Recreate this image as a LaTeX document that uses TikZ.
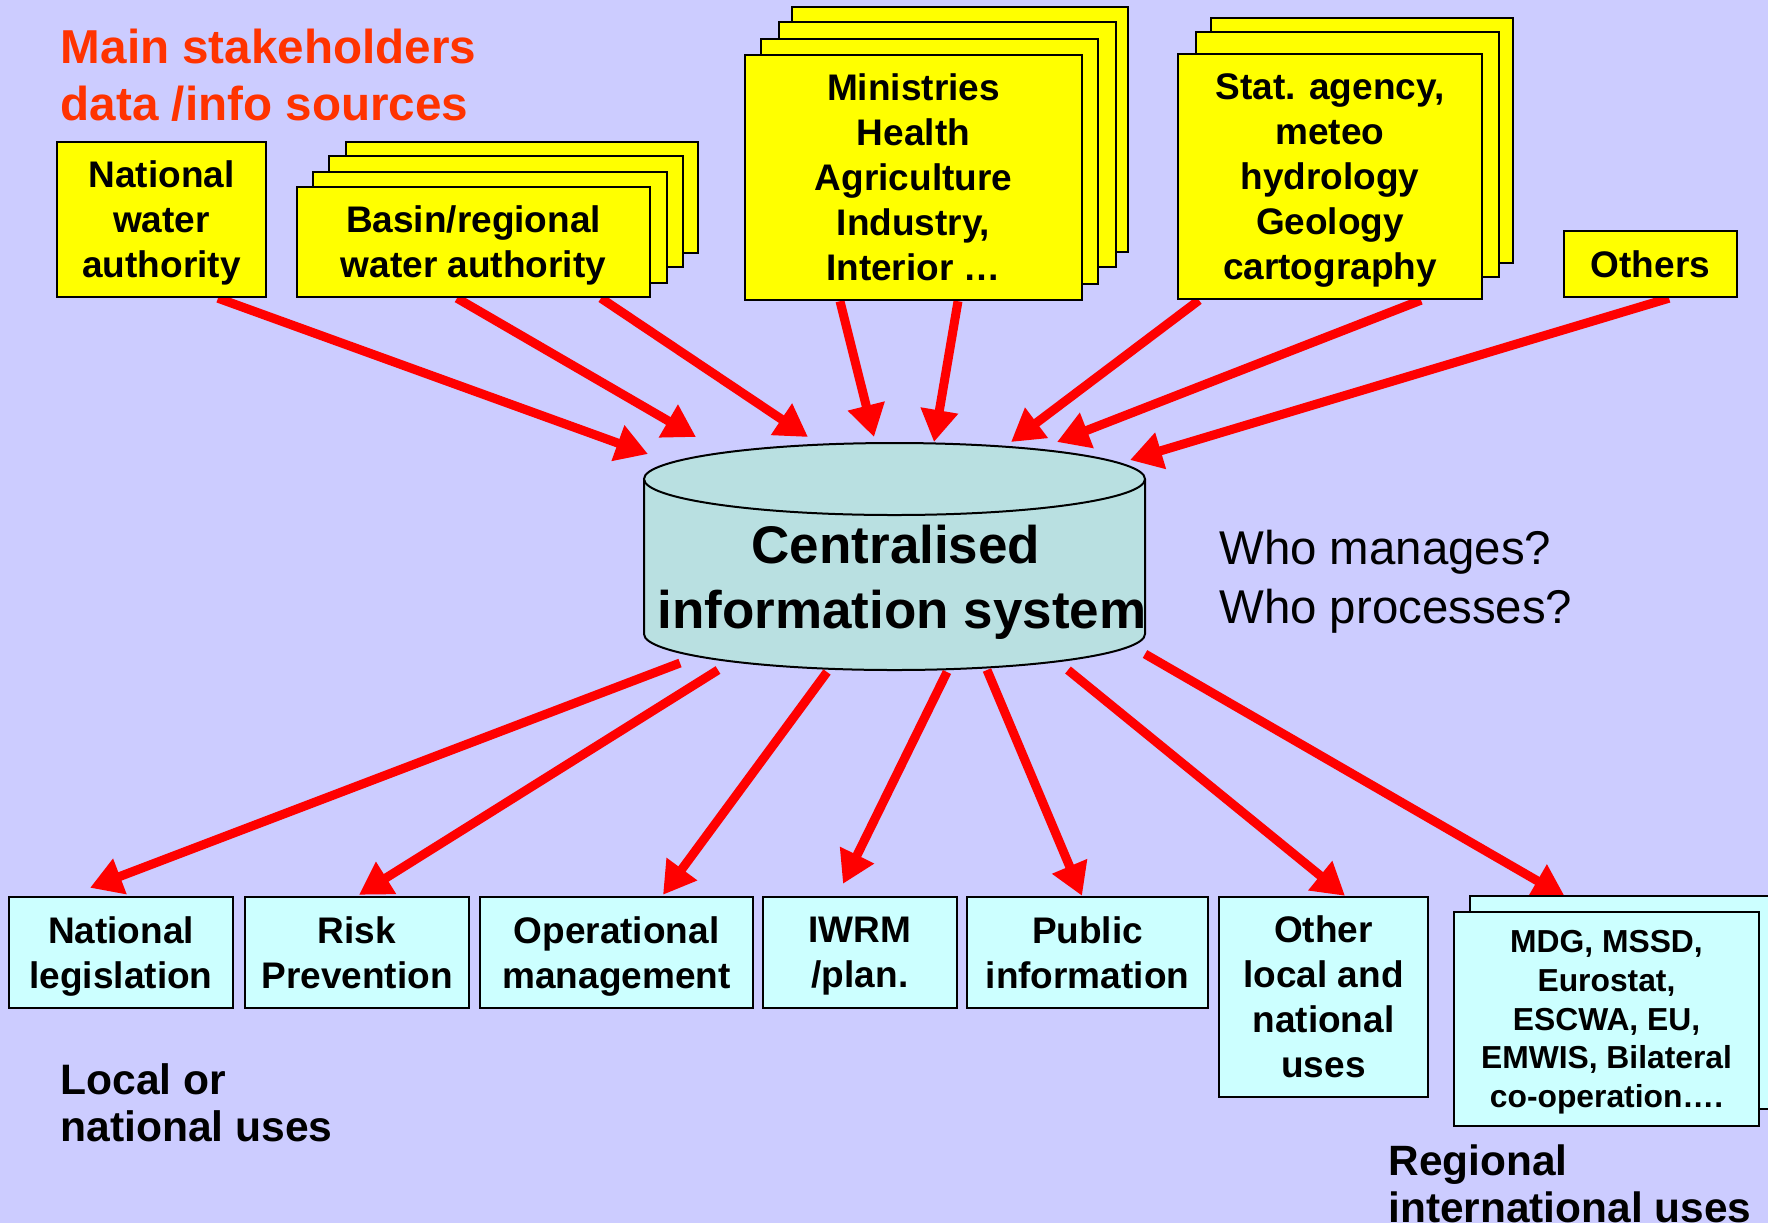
\documentclass[tikz,border=0pt]{standalone}
\usepackage{fontspec}
\setmainfont{Liberation Sans}
\usetikzlibrary{arrows.meta}
\definecolor{bgc}{RGB}{204,204,255}
\definecolor{ylw}{RGB}{255,255,0}
\definecolor{cyn}{RGB}{204,255,255}
\definecolor{cylc}{RGB}{185,224,225}
\definecolor{ttl}{RGB}{255,51,0}
\pgfdeclarelayer{back}
\pgfsetlayers{back,main}
\begin{document}
\begin{tikzpicture}[x=0.5pt,y=-0.5pt,
  boxfont/.style={font=\bfseries\fontsize{18.5}{22.5}\selectfont},
  src/.style={draw=black, line width=1.2pt, fill=ylw, inner sep=0pt, align=center, boxfont},
  usebox/.style={draw=black, line width=1.2pt, fill=cyn, inner sep=0pt, align=center, boxfont},
  sheet/.style={draw=black, line width=1.2pt, fill=ylw},
  csheet/.style={draw=black, line width=1.2pt, fill=cyn},
  flow/.style={draw=red, line width=4.5pt, -{Triangle[length=16pt,width=18pt]}},
  freetext/.style={inner sep=0pt, anchor=north west, align=left},
]
\useasboundingbox (0,0) rectangle (1768,1223);
\clip (0,0) rectangle (1768,1223);

% title
\node[freetext, text=ttl, font=\bfseries\fontsize{23.8}{28.5}\selectfont] (title) at (60.5,29) {Main stakeholders\\data /info sources};

% sources
\node[src, minimum width=104.5pt, minimum height=77.5pt] (nwa) at (161.5,219.5) {National\\water\\\smash{authority}};

\draw[sheet] (346,142) rectangle (698,253);
\draw[sheet] (329,156) rectangle (683,267);
\draw[sheet] (313,172) rectangle (667,283);
\node[src, minimum width=176.5pt, minimum height=55pt] (brwa) at (473.5,242) {Basin/regional\\\smash{water authority}};

\draw[sheet] (792,7) rectangle (1128,252);
\draw[sheet] (779,22) rectangle (1116,267);
\draw[sheet] (761,39) rectangle (1098,284);
\node[src, minimum width=168.5pt, minimum height=122.5pt] (mini) at (913.5,177.5) {Ministries\\Health\\Agriculture\\Industry,\\\smash{Interior …}};

\draw[sheet] (1211,18) rectangle (1513,263);
\draw[sheet] (1196,32) rectangle (1499,277);
\node[src, minimum width=152pt, minimum height=122.5pt] (stat) at (1330,176.5) {Stat. agency,\\meteo\\hydrology\\Geology\\\smash{cartography}};

\node[src, minimum width=86.5pt, minimum height=33pt] (oth) at (1650.5,264) {Others};

% central system label
\node[inner sep=0pt, align=center, font=\bfseries\fontsize{26.5}{32.25}\selectfont] (cis) at (896,577) {Centralised\\\smash{\hspace*{6pt}information system}};

\node[freetext, font=\fontsize{23.7}{29.2}\selectfont] (who) at (1219,530) {Who manages?\\Who processes?};

% uses
\node[usebox, minimum width=112pt, minimum height=55.5pt] (nl) at (121,952.5) {National\\\smash{legislation}};
\node[usebox, minimum width=112pt, minimum height=55.5pt] (rp) at (357,952.5) {Risk\\\smash{Prevention}};
\node[usebox, minimum width=136.5pt, minimum height=55.5pt] (om) at (616.5,952.5) {Operational\\\smash{management}};
\node[usebox, minimum width=97pt, minimum height=55.5pt] (iw) at (860,952.5) {IWRM\\\smash{/plan.}};
\node[usebox, minimum width=120.5pt, minimum height=55.5pt] (pi) at (1087.5,952.5) {Public\\\smash{information}};
\node[usebox, minimum width=104.5pt, minimum height=100pt] (ol) at (1323.5,997) {Other\\local and\\national\\\smash{uses}};
\draw[csheet] (1470,896) rectangle (1800,1109);
\node[usebox, minimum width=152.5pt, minimum height=107pt, font=\bfseries\fontsize{15.9}{19.3}\selectfont] (mdg) at (1606.5,1019) {MDG, MSSD,\\Eurostat,\\ESCWA, EU,\\EMWIS, Bilateral\\\smash{co-operation….}};

\node[freetext, font=\bfseries\fontsize{21.3}{23.5}\selectfont] (loc) at (60,1063) {Local or\\national uses};
\node[freetext, font=\bfseries\fontsize{21.2}{23.5}\selectfont] (reg) at (1388,1144) {Regional\\international uses};

% arrow end points on the cylinder
\coordinate (ct1) at (648,454);
\coordinate (ct2) at (696,437);
\coordinate (ct3) at (808,437);
\coordinate (ct4) at (874,437);
\coordinate (ct5) at (934,442);
\coordinate (ct6) at (1011,442);
\coordinate (ct7) at (1057,442);
\coordinate (ct8) at (1130,460);
\coordinate (cb1) at (680,663);
\coordinate (cb2) at (718,670);
\coordinate (cb3) at (827,672);
\coordinate (cb4) at (947,672);
\coordinate (cb5) at (987,670);
\coordinate (cb6) at (1068,670);
\coordinate (cb7) at (1145,654);

\begin{pgfonlayer}{back}
\fill[bgc] (0,0) rectangle (1768,1223);
% cylinder
\filldraw[fill=cylc, draw=black, line width=1pt] (644,479) -- (644,634) arc[start angle=180, end angle=360, x radius=125.25pt, y radius=18pt] -- (1145,479);
\filldraw[fill=cylc, draw=black, line width=1pt] (894.5,479) ellipse [x radius=125.25pt, y radius=18pt];
% inflows
\draw[flow] ([xshift=28.25pt]nwa.south) -- (ct1);
\draw[flow] ([xshift=-8.25pt]brwa.south) -- (ct2);
\draw[flow] ([xshift=63.75pt]brwa.south) -- (ct3);
\draw[flow] ([xshift=-36.75pt]mini.south) -- (ct4);
\draw[flow] ([xshift=22.25pt]mini.south) -- (ct5);
\draw[flow] ([xshift=-65.5pt]stat.south) -- (ct6);
\draw[flow] ([xshift=45.5pt]stat.south) -- (ct7);
\draw[flow] ([xshift=9.25pt]oth.south) -- (ct8);
% outflows
\draw[flow] (cb1) -- ([xshift=-15.5pt,yshift=4pt]nl.north);
\draw[flow] (cb2) -- ([xshift=1pt,yshift=0.5pt]rp.north);
\draw[flow] (cb3) -- ([xshift=23.25pt,yshift=0.5pt]om.north);
\draw[flow] (cb4) -- ([xshift=-8.5pt,yshift=6pt]iw.north);
\draw[flow] (cb5) -- ([xshift=-2.75pt]pi.north);
\draw[flow] (cb6) -- ([xshift=10.75pt]ol.north);
\draw[flow] (cb7) -- ([xshift=-20.75pt,yshift=7pt]mdg.north);
\end{pgfonlayer}
\end{tikzpicture}
\end{document}
